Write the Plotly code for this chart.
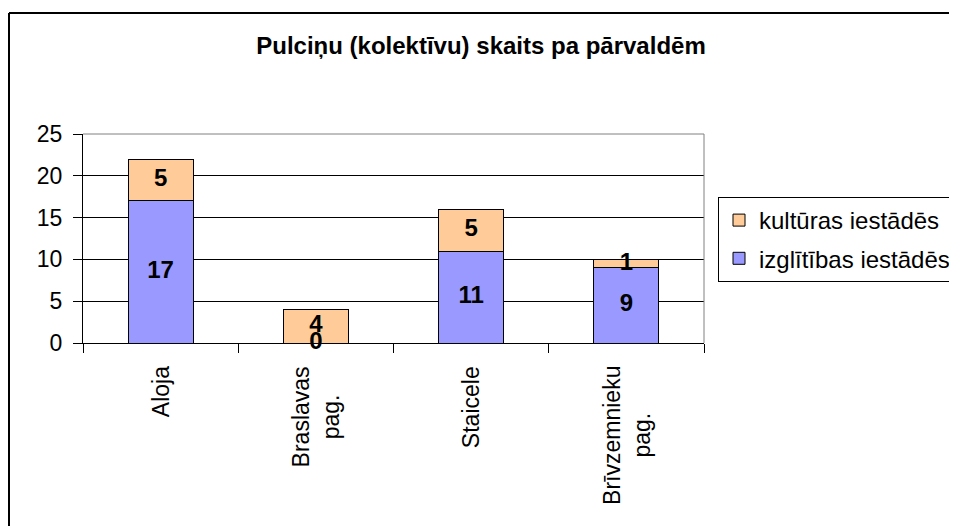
import plotly.graph_objects as go

categories = ["Aloja", "Braslavas<br>pag.", "Staicele", "Brīvzemnieku<br>pag."]
izglitibas = [17, 0, 11, 9]
kulturas = [5, 4, 5, 1]
series_names = ["izglītības iestādēs", "kultūras iestādēs"]
title_text = "Pulciņu (kolektīvu) skaits pa pārvaldēm"
y_ticks = [0, 5, 10, 15, 20, 25]

FONT = "Arial, Liberation Sans, sans-serif"
OFF = 8                      # page body margin
W, H = 957 - OFF, 526 - OFF
# plot area in reference-window pixels
L, R, T, B = 83, 704, 134, 343
Lf, Rf, Tf, Bf = L - OFF, R - OFF, T - OFF, B - OFF

pw, ph = Rf - Lf, Bf - Tf
def px(x):
    return (x - OFF - Lf) / pw
def py(y):
    return (Bf - (y - OFF)) / ph

fig = go.Figure()
fig.add_trace(go.Bar(x=categories, y=izglitibas, name=series_names[0],
                     marker=dict(color="#9999FF", line=dict(color="black", width=1)),
                     width=0.42, legendgroup="a", legendrank=2))
fig.add_trace(go.Bar(x=categories, y=kulturas, name=series_names[1],
                     marker=dict(color="#FFCC99", line=dict(color="black", width=1)),
                     width=0.42, legendgroup="b", legendrank=1))

# data labels centered in each segment
lab_y1 = [v / 2 for v in izglitibas]
lab_y2 = [a + b / 2 for a, b in zip(izglitibas, kulturas)]
lblfont = dict(family=FONT, size=24, color="black", weight="bold")
fig.add_trace(go.Scatter(x=categories, y=lab_y1, mode="text", text=[str(v) for v in izglitibas],
                         textfont=lblfont, showlegend=False, hoverinfo="skip", cliponaxis=False))
fig.add_trace(go.Scatter(x=categories, y=lab_y2, mode="text", text=[str(v) for v in kulturas],
                         textfont=lblfont, showlegend=False, hoverinfo="skip", cliponaxis=False))

fig.update_layout(
    width=W, height=H,
    barmode="stack",
    paper_bgcolor="white", plot_bgcolor="white",
    font=dict(family=FONT, size=24, color="black"),
    margin=dict(l=Lf, r=W - Rf, t=Tf, b=H - Bf, autoexpand=False, pad=0),
    title=dict(text="<b>" + title_text + "</b>", x=(481 - OFF) / W, xref="container", xanchor="center",
               y=1 - (46 - OFF) / H, yref="container", yanchor="middle",
               font=dict(family=FONT, size=24, color="black")),
    legend=dict(x=px(718), y=py(197), xanchor="left", yanchor="top",
                traceorder="grouped", tracegroupgap=4,
                bordercolor="black", borderwidth=1, bgcolor="white",
                font=dict(family=FONT, size=24, color="black"),
                itemwidth=30),
    xaxis=dict(type="category", showline=True, linecolor="black", linewidth=1,
               ticks="outside", ticklen=9, tickcolor="black", tickson="boundaries",
               showticklabels=False, showgrid=False),
    yaxis=dict(range=[0, 25], tickvals=y_ticks, showline=True, linecolor="black", linewidth=1,
               ticks="outside", ticklen=9, tickcolor="black", ticklabelstandoff=6,
               showgrid=True, gridcolor="black", gridwidth=1, zeroline=False,
               tickfont=dict(family=FONT, size=23)),
    showlegend=True,
)

# rotated category labels (lines centred like the reference)
for c in categories:
    fig.add_annotation(x=c, xref="x", y=py(364), yref="paper", yanchor="top", xanchor="center",
                       text=c, textangle=-90, align="center", showarrow=False,
                       font=dict(family=FONT, size=23, color="black"))

shapes = [
    # plot area border (top & right) in gray
    dict(type="line", xref="paper", yref="paper", x0=0, x1=1, y0=1, y1=1,
         line=dict(color="#808080", width=1)),
    dict(type="line", xref="paper", yref="paper", x0=1, x1=1, y0=0, y1=1,
         line=dict(color="#808080", width=1)),
    # outer chart border: left and top edges (right/bottom lie outside the window)
    dict(type="line", xref="paper", yref="paper", x0=px(9), x1=px(9), y0=py(540), y1=py(13),
         line=dict(color="black", width=2), layer="below"),
    dict(type="line", xref="paper", yref="paper", x0=px(9), x1=px(970), y0=py(13), y1=py(13),
         line=dict(color="black", width=2), layer="below"),
]
fig.update_layout(shapes=shapes)

fig.write_html("out.html")
